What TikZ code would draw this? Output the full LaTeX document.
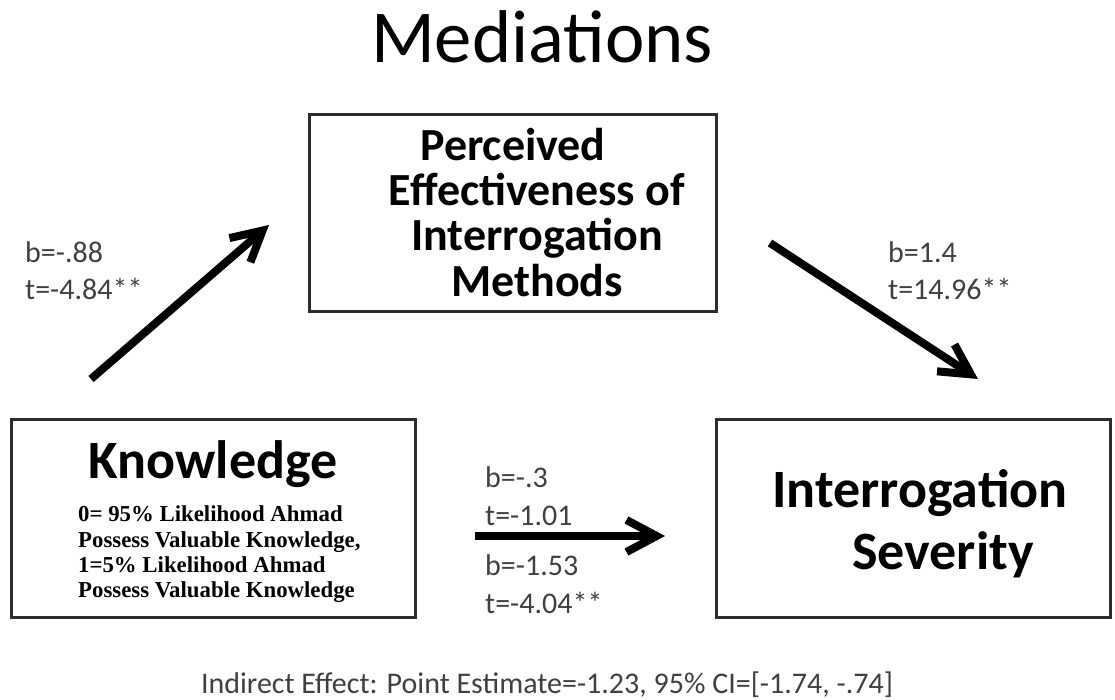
\documentclass[tikz,border=0pt]{standalone}
\usepackage{fontspec}
\setmainfont{Carlito}
\newfontfamily\cambfont{Liberation Serif}
\usetikzlibrary{arrows.meta}
\definecolor{lblgray}{RGB}{64,64,64}
\definecolor{boxgray}{RGB}{45,45,45}
\begin{document}
\begin{tikzpicture}[x=1pt,y=-1pt,
  box/.style={draw=boxgray,line width=3pt,inner sep=0pt},
  lbl/.style={anchor=base west,inner sep=0pt,text=lblgray,font=\fontsize{30}{36}\selectfont},
  boxtxt/.style={anchor=base,inner sep=0pt,font=\bfseries\fontsize{46}{46}\selectfont},
  bigtxt/.style={anchor=base,inner sep=0pt,font=\bfseries\fontsize{54}{54}\selectfont},
  subtxt/.style={anchor=base west,inner sep=0pt,font=\cambfont\bfseries\fontsize{22.8}{25}\selectfont},
  arr/.style={line width=8pt,-{Straight Barb[length=30pt,width=32pt]}}]
\useasboundingbox (0,0) rectangle (1115,700);
% title
\node[anchor=base,inner sep=0pt,font=\fontsize{74.7}{80}\selectfont] (title) at (542,63) {Mediations};
% mediator box
\node[box,minimum width=407pt,minimum height=197pt] (pem) at (513,213) {};
\node[boxtxt] (pem1) at (513,161) {Perceived};
\node[boxtxt] (pem2) at (537,206) {Effectiveness of};
\node[boxtxt] (pem3) at (537,251) {Interrogation};
\node[boxtxt] (pem4) at (537,296) {Methods};
% knowledge box
\node[box,minimum width=404pt,minimum height=198pt] (kn) at (213,518) {};
\node[bigtxt] (kn0) at (213,478) {Knowledge};
\node[subtxt] (kn1) at (78,521) {0= 95\% Likelihood Ahmad};
\node[subtxt] (kn2) at (78,547) {Possess Valuable Knowledge,};
\node[subtxt] (kn3) at (78,572) {1=5\% Likelihood Ahmad};
\node[subtxt] (kn4) at (78,597) {Possess Valuable Knowledge};
% outcome box
\node[box,minimum width=394pt,minimum height=198pt] (is) at (913,518) {};
\node[bigtxt] (is1) at (920,507) {Interrogation};
\node[bigtxt] (is2) at (943,569) {Severity};
% labels
\node[lbl] (la1) at (25,263) {b=-.88};
\node[lbl] (la2) at (25,299) {t=-4.84**};
\node[lbl] (lb1) at (888,263) {b=1.4};
\node[lbl] (lb2) at (888,299) {t=14.96**};
\node[lbl] (lc1) at (485,487) {b=-.3};
\node[lbl] (lc2) at (485,525) {t=-1.01};
\node[lbl] (lc3) at (485,575) {b=-1.53};
\node[lbl] (lc4) at (485,613) {t=-4.04**};
% bottom note
\node[anchor=base,inner sep=0pt,text=lblgray,font=\fontsize{30}{36}\selectfont] (note) at (547,693) {Indirect Effect: Point Estimate=-1.23, 95\% CI=[-1.74, -.74]};
% arrows
\coordinate (a1) at (91,379);
\coordinate (a2) at (269,225);
\coordinate (b1) at (770,243);
\coordinate (b2) at (978,379);
\coordinate (c1) at (475,536);
\coordinate (c2) at (665,536);
\draw[arr] (a1) -- (a2);
\draw[arr] (b1) -- (b2);
\draw[arr] (c1) -- (c2);
\end{tikzpicture}
\end{document}
